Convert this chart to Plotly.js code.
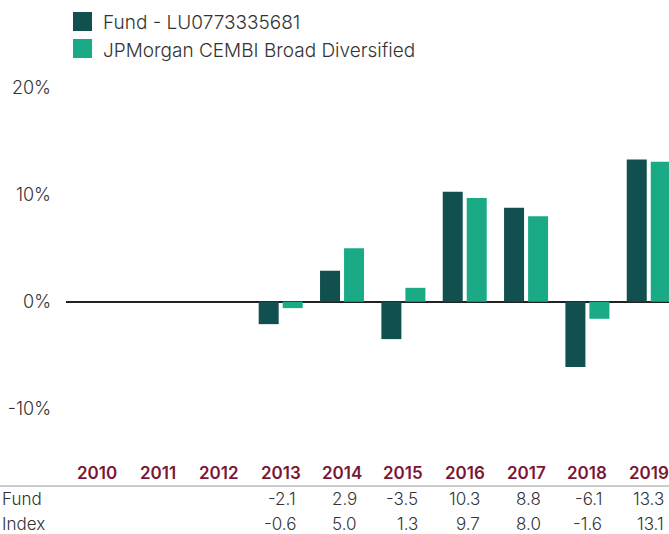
<!DOCTYPE html>
<html>
<head>
<meta charset="utf-8">
<script src="https://cdn.plot.ly/plotly-3.0.1.min.js"></script>
<style>html,body{margin:0;padding:0;background:#fff}#chart{width:669px;height:534px}</style>
</head>
<body>
<div id="chart"></div>
<script>
var years = ['2010','2011','2012','2013','2014','2015','2016','2017','2018','2019'];
var fundName = 'Fund - LU0773335681';
var indexName = 'JPMorgan CEMBI Broad Diversified';
var fundValues = [null, null, null, -2.1, 2.9, -3.5, 10.3, 8.8, -6.1, 13.3];
var indexValues = [null, null, null, -0.6, 5.0, 1.3, 9.7, 8.0, -1.6, 13.1];
var rowLabels = ['Fund', 'Index'];
var yTicks = [-10, 0, 10, 20];

var FONT = 'Inter, "Open Sans", sans-serif';
var fundColor = '#124f4f';
var indexColor = '#1aaa85';
var yearColor = '#7a1736';

// paper conversions (plot area: x 66..669, y 88..462)
var leftEdge = -66 / 603;
function px(p) { return (p - 66) / 603; }
function py(p) { return (462 - p) / 374; }

var traces = [
  {type: 'bar', name: fundName, x: years, y: fundValues, marker: {color: fundColor}, hoverinfo: 'skip'},
  {type: 'bar', name: indexName, x: years, y: indexValues, marker: {color: indexColor}, hoverinfo: 'skip'}
];

var annotations = [];
years.forEach(function (yr, i) {
  annotations.push({xref: 'x', yref: 'paper', x: i, y: py(473), text: yr, showarrow: false,
    xanchor: 'center', yanchor: 'middle', font: {family: FONT, size: 17, color: yearColor, weight: 600}});
  [fundValues, indexValues].forEach(function (arr, r) {
    if (arr[i] === null) return;
    annotations.push({xref: 'x', yref: 'paper', x: i, xshift: 17, y: py(r === 0 ? 499 : 524),
      text: arr[i].toFixed(1), showarrow: false, xanchor: 'right', yanchor: 'middle',
      font: {family: FONT, size: 17, color: '#333', weight: 300}});
  });
});
rowLabels.forEach(function (lab, r) {
  annotations.push({xref: 'paper', yref: 'paper', x: leftEdge, y: py(r === 0 ? 499 : 524), text: lab,
    showarrow: false, xanchor: 'left', yanchor: 'middle', font: {family: FONT, size: 17, color: '#333', weight: 300}});
});

var swatch = function (color, top) {
  return {type: 'rect', xref: 'paper', yref: 'paper', x0: px(73), x1: px(92), y0: py(top + 19), y1: py(top),
    fillcolor: color, line: {width: 0}, layer: 'above'};
};

var layout = {
  width: 669, height: 534,
  margin: {l: 66, r: 0, t: 88, b: 72},
  paper_bgcolor: '#fff', plot_bgcolor: '#fff',
  barmode: 'group', bargap: 0.217, bargroupgap: 0.167,
  font: {family: FONT, color: '#333'},
  showlegend: true,
  legend: {x: -0.005, y: py(3), xanchor: 'left', yanchor: 'top', orientation: 'v',
    font: {family: FONT, size: 19, color: '#333', weight: 300}, bgcolor: 'rgba(0,0,0,0)', tracegroupgap: 0},
  xaxis: {type: 'category', range: [-0.5, 9.33], showticklabels: false, showgrid: false, zeroline: false,
    showline: false, ticks: '', fixedrange: true},
  yaxis: {range: [-15, 20], tickvals: yTicks, ticktext: yTicks.map(function (v) { return v + '%'; }),
    showgrid: false, zeroline: true, zerolinecolor: '#222', zerolinewidth: 2, showline: false, ticks: '',
    ticklabelstandoff: 14, tickfont: {family: FONT, size: 18, color: '#333', weight: 300}, fixedrange: true},
  shapes: [
    {type: 'line', xref: 'paper', yref: 'paper', x0: leftEdge, x1: 1, y0: py(486), y1: py(486),
      line: {color: '#999', width: 1}},
    swatch(fundColor, 12), swatch(indexColor, 39)
  ],
  annotations: annotations
};

Plotly.newPlot('chart', traces, layout, {displayModeBar: false, staticPlot: true});
</script>
</body>
</html>
